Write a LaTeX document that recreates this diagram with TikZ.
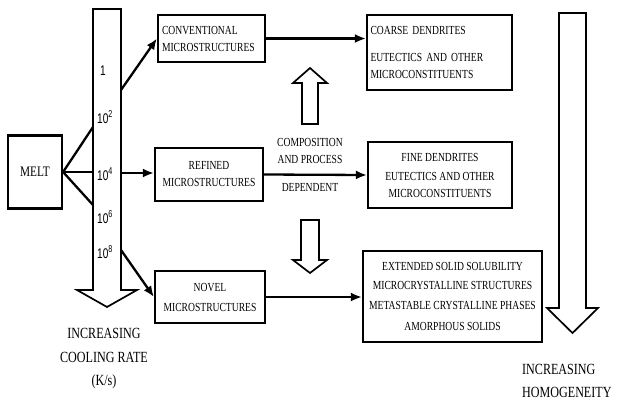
\documentclass[tikz,border=0pt]{standalone}
\usepackage{fontspec}
\setmainfont[FakeStretch=0.78]{Liberation Serif}
\newfontfamily\ticksf[FakeStretch=0.72]{Liberation Sans}
\usetikzlibrary{arrows.meta}
\newcommand{\rateexp}[1]{10\raisebox{0.42em}{\fontsize{10}{10}\selectfont #1}}

\begin{document}
\begin{tikzpicture}[
  x=1pt, y=-1pt,
  font=\fontsize{12.3}{17}\selectfont,
  box/.style={draw, line width=2.2pt, inner sep=2pt, align=center},
  conn/.style={line width=2.3pt},
  arr/.style={conn, -{Latex[length=11pt,width=9pt]}},
  hollow/.style={draw, line width=1.7pt, line join=miter},
  tick/.style={anchor=base west, inner sep=0pt, font=\ticksf\fontsize{14}{14}\selectfont},
  caption/.style={inner sep=0pt, font=\fontsize{15.5}{23.5}\selectfont}
]
\useasboundingbox (0,0) rectangle (619,405);

% hollow arrows
\draw[hollow] (93,9) -- (121,9) -- (121,290) -- (137,290) -- (107,307) -- (77,290) -- (93,290) -- cycle;
\draw[hollow] (302,124) -- (302,83) -- (293,83) -- (310,68) -- (327,83) -- (318,83) -- (318,124) -- cycle;
\draw[hollow] (301,220) -- (319,220) -- (319,260) -- (327,260) -- (310,273) -- (293,260) -- (301,260) -- cycle;
\draw[hollow] (559,13) -- (586,13) -- (586,308) -- (598,308) -- (572.5,333) -- (547,308) -- (559,308) -- cycle;

% cooling rates
\node[tick] (r0) at (100,75)  {1};
\node[tick] (r2) at (97,123)  {\rateexp{2}};
\node[tick] (r4) at (97,180)  {\rateexp{4}};
\node[tick] (r6) at (97,223)  {\rateexp{6}};
\node[tick] (r8) at (97,258)  {\rateexp{8}};

\coordinate (m2) at (93,127);
\coordinate (m4) at (93,172);
\coordinate (m6) at (93,205);
\coordinate (q0) at (121,90);
\coordinate (q4) at (121,173);
\coordinate (q8) at (121,250);

% boxes
\node[box, minimum width=54pt, minimum height=73pt, font=\fontsize{14.5}{14.5}\selectfont] (melt) at (35,172) {MELT};
\node[box, minimum width=107pt, minimum height=47pt, inner xsep=4pt, text width=99pt, align=left] (conv) at (211.5,38.5) {CONVENTIONAL\\MICROSTRUCTURES};
\node[box, minimum width=108pt, minimum height=53pt] (refined) at (209,174.5) {REFINED\\MICROSTRUCTURES};
\node[box, minimum width=110pt, minimum height=52pt] (novel) at (210,297) {NOVEL\\[3pt]MICROSTRUCTURES};
\node[box, minimum width=145pt, minimum height=75pt, inner xsep=3.5pt, text width=138pt, align=left] (coarse) at (439.5,52.5) {COARSE DENDRITES\\[10pt]EUTECTICS AND OTHER\\MICROCONSTITUENTS};
\node[box, minimum width=144pt, minimum height=66pt] (fine) at (440,175) {FINE DENDRITES\\[2pt]EUTECTICS AND OTHER\\MICROCONSTITUENTS};
\node[box, minimum width=179pt, minimum height=91pt] (phases) at (452.5,296.5) {EXTENDED SOLID SOLUBILITY\\[2pt]MICROCRYSTALLINE STRUCTURES\\[3pt]METASTABLE CRYSTALLINE PHASES\\[4pt]AMORPHOUS SOLIDS};

\node[align=center, inner sep=0pt] (dep) at (310,165) {COMPOSITION\\AND PROCESS\\[11pt]DEPENDENT};

\node[caption, align=center] (rate) at (104,359) {INCREASING\\COOLING RATE\\(K/s)};
\node[caption, align=left, anchor=west] (homog) at (522,381) {INCREASING\\HOMOGENEITY};

% connectors
\draw[conn] (melt.east) -- (m2);
\draw[conn] (melt.east) -- (m4);
\draw[conn] (melt.east) -- (m6);
\draw[arr] (q0) -- (conv.west);
\draw[arr] (q4) -- (q4 -| refined.west);
\draw[arr] (q8) -- (novel.west);
\draw[arr] (conv.east) -- (conv.east -| coarse.west);
\draw[arr] (refined.east) -- (fine.west);
\draw[arr] (novel.east) -- (novel.east -| phases.west);
\end{tikzpicture}
\end{document}
